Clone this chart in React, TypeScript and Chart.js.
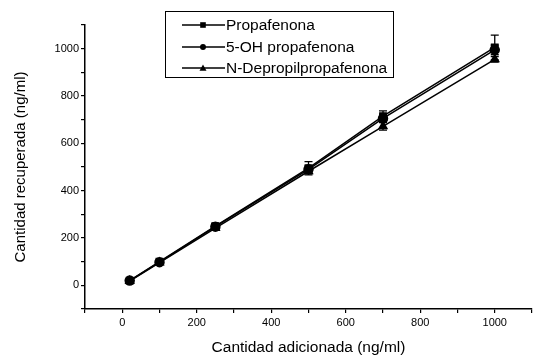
import React, { useEffect, useRef } from 'react';
import { Chart, registerables } from 'chart.js';

Chart.register(...registerables);

// ---- data ----
const xValues = [20, 100, 250, 500, 700, 1000];
const propafenona = [20, 100, 250, 495, 715, 1005];
const ohPropafenona = [20, 98, 248, 490, 705, 995];
const nDepropil = [18, 96, 242, 482, 672, 955];
const propErr = [3, 5, 12, 28, 22, 52];
const ohErr = [3, 5, 10, 15, 15, 20];
const nErr = [3, 5, 8, 10, 16, 12];
const legendLabels = ['Propafenona', '5-OH propafenona', 'N-Depropilpropafenona'];
const markerStyles = ['rect', 'circle', 'triangle'];
const xTitle = 'Cantidad adicionada (ng/ml)';
const yTitle = 'Cantidad recuperada (ng/ml)';
const tickLabels = [0, 200, 400, 600, 800, 1000];

const FONT = '"Liberation Sans", Arial, sans-serif';

function drawMarker(ctx: CanvasRenderingContext2D, style: string, x: number, y: number, r: number) {
  ctx.beginPath();
  if (style === 'rect') {
    ctx.rect(x - r * 0.8, y - r * 0.8, r * 1.6, r * 1.6);
  } else if (style === 'circle') {
    ctx.arc(x, y, r * 0.85, 0, Math.PI * 2);
  } else {
    ctx.moveTo(x, y - r);
    ctx.lineTo(x + r, y + r * 0.8);
    ctx.lineTo(x - r, y + r * 0.8);
    ctx.closePath();
  }
  ctx.fill();
}

export default function App() {
  const ref = useRef<HTMLCanvasElement>(null);

  useEffect(() => {
    if (!ref.current) return;
    const series = [propafenona, ohPropafenona, nDepropil];
    const errors = [propErr, ohErr, nErr];

    const errorBars = {
      id: 'errorBars',
      afterDatasetsDraw(chart: any) {
        const { ctx, scales } = chart;
        const xs = scales.x;
        const ys = scales.y;
        ctx.save();
        ctx.strokeStyle = '#000';
        ctx.lineWidth = 1.3;
        series.forEach((s, i) => {
          s.forEach((v, j) => {
            const e = errors[i][j];
            const px = xs.getPixelForValue(xValues[j]);
            const top = ys.getPixelForValue(v + e);
            const bot = ys.getPixelForValue(v - e);
            ctx.beginPath();
            ctx.moveTo(px, top);
            ctx.lineTo(px, bot);
            ctx.moveTo(px - 4, top);
            ctx.lineTo(px + 4, top);
            ctx.moveTo(px - 4, bot);
            ctx.lineTo(px + 4, bot);
            ctx.stroke();
          });
        });
        ctx.restore();
      },
    };

    const legendBox = {
      id: 'legendBox',
      afterDraw(chart: any) {
        const ctx = chart.ctx as CanvasRenderingContext2D;
        ctx.save();
        ctx.strokeStyle = '#000';
        ctx.lineWidth = 1;
        ctx.fillStyle = '#fff';
        ctx.fillRect(165.5, 11.5, 228, 66);
        ctx.strokeRect(165.5, 11.5, 228, 66);
        ctx.fillStyle = '#000';
        ctx.font = `15.5px ${FONT}`;
        ctx.textBaseline = 'middle';
        const rows = [25, 47, 68];
        legendLabels.forEach((label, i) => {
          const y = rows[i];
          ctx.beginPath();
          ctx.lineWidth = 1.3;
          ctx.moveTo(182, y);
          ctx.lineTo(225, y);
          ctx.stroke();
          drawMarker(ctx, markerStyles[i], 203, y, 3.5);
          ctx.fillText(label, 226, y + 1);
        });
        ctx.restore();
      },
    };

    const datasets = series.map((s, i) => ({
      label: legendLabels[i],
      data: s.map((v, j) => ({ x: xValues[j], y: v })),
      borderColor: '#000',
      backgroundColor: '#000',
      borderWidth: 1.5,
      pointStyle: markerStyles[i],
      pointRadius: 4.5,
      pointBackgroundColor: '#000',
      pointBorderColor: '#000',
      tension: 0,
      showLine: true,
    }));

    const labelCb = (v: any) => (tickLabels.includes(Number(v)) ? String(v) : '');

    const chart = new Chart(ref.current, {
      type: 'line',
      data: { datasets },
      plugins: [errorBars, legendBox],
      options: {
        animation: false,
        responsive: false,
        layout: { padding: { top: 25, right: 1, left: 0, bottom: 0 } },
        plugins: { legend: { display: false }, tooltip: { enabled: false } },
        scales: {
          x: {
            type: 'linear',
            min: -100,
            max: 1100,
            afterFit: (s: any) => { s.height = 50; },
            ticks: {
              stepSize: 100,
              autoSkip: false,
              maxRotation: 0,
              callback: labelCb,
              color: '#000',
              padding: 3,
              font: { family: FONT, size: 11 },
            },
            grid: { drawOnChartArea: false, drawTicks: true, tickLength: 4, color: '#000', lineWidth: 1.2 },
            border: { display: true, color: '#000', width: 1.5 },
            title: {
              display: true,
              text: xTitle,
              color: '#000',
              font: { family: FONT, size: 15.5 },
              padding: { top: 0, bottom: 2 },
            },
          },
          y: {
            type: 'linear',
            min: -100,
            max: 1100,
            afterFit: (s: any) => { s.width = 85; },
            ticks: {
              stepSize: 100,
              autoSkip: false,
              callback: labelCb,
              color: '#000',
              padding: 2,
              font: { family: FONT, size: 11 },
            },
            grid: { drawOnChartArea: false, drawTicks: true, tickLength: 4, color: '#000', lineWidth: 1.2 },
            border: { display: true, color: '#000', width: 1.5 },
            title: {
              display: true,
              text: yTitle,
              color: '#000',
              font: { family: FONT, size: 15 },
              padding: { top: 12, bottom: 0 },
            },
          },
        },
      },
    } as any);

    return () => chart.destroy();
  }, []);

  return (
    <div style={{ position: 'absolute', left: 0, top: 0, width: 538, height: 359, background: '#fff' }}>
      <canvas ref={ref} width={538} height={359} style={{ display: 'block' }} />
    </div>
  );
}
